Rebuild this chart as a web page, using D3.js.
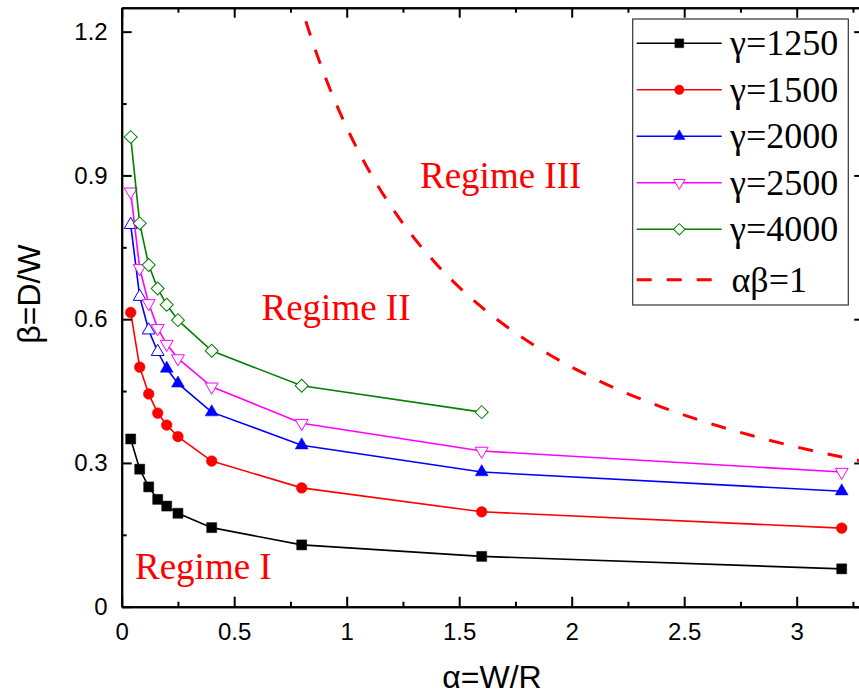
<!DOCTYPE html>
<html>
<head>
<meta charset="utf-8">
<script src="https://cdn.jsdelivr.net/npm/d3@7"></script>
<style>
  html, body { margin: 0; padding: 0; background: #fff; }
  svg { display: block; }
</style>
</head>
<body>
<svg id="chart" width="859" height="695"></svg>
<script>
// Dimensionless geometry: α = W/R on x, β = D/W on y
const alphaValues = [0.04, 0.08, 0.12, 0.16, 0.2, 0.25, 0.4, 0.8, 1.6, 3.2];

const gammaLabels = ["γ=1250", "γ=1500", "γ=2000", "γ=2500", "γ=4000"];

const beta1250 = [0.350, 0.287, 0.250, 0.224, 0.210, 0.195, 0.165, 0.129, 0.105, 0.079];
const beta1500 = [0.614, 0.500, 0.444, 0.404, 0.379, 0.355, 0.304, 0.248, 0.198, 0.164];
const beta2000 = [0.797, 0.647, 0.577, 0.532, 0.497, 0.466, 0.406, 0.337, 0.281, 0.241];
const beta2500 = [0.866, 0.706, 0.633, 0.581, 0.548, 0.518, 0.459, 0.383, 0.325, 0.281];
const beta4000 = [0.980, 0.800, 0.713, 0.664, 0.630, 0.598, 0.534, 0.461, 0.406];

// Sample abscissae for the boundary curve αβ = 1
const boundaryAlpha = [0.78, 0.8, 0.85, 0.9, 0.95, 1.0, 1.1, 1.2, 1.3, 1.4, 1.5, 1.6, 1.75, 1.9,
                       2.05, 2.2, 2.4, 2.6, 2.8, 3.0, 3.2, 3.3];
const boundaryLabel = "αβ=1";

const xMajorTicks = [0, 0.5, 1, 1.5, 2, 2.5, 3];
const xMinorTicks = [0.25, 0.75, 1.25, 1.75, 2.25, 2.75, 3.25];
const yMajorTicks = [0, 0.3, 0.6, 0.9, 1.2];
const yMinorTicks = [0.15, 0.45, 0.75, 1.05];
const xTickLabels = ["0", "0.5", "1", "1.5", "2", "2.5", "3"];
const yTickLabels = ["0", "0.3", "0.6", "0.9", "1.2"];

const regimeLabels = ["Regime I", "Regime II", "Regime III"];

// ---- styling & layout ----
const SANS = "'Liberation Sans', Arial, sans-serif";
const SERIF = "'Liberation Serif', 'Times New Roman', serif";

const seriesStyle = [
  { color: "#000000", shape: "square",  filled: true  },
  { color: "#ff0000", shape: "circle",  filled: true  },
  { color: "#0000ff", shape: "triUp",   filled: true, hollowLead: 4 },
  { color: "#ff00ff", shape: "triDown", filled: false },
  { color: "#008000", shape: "diamond", filled: false }
];
const seriesBeta = [beta1250, beta1500, beta2000, beta2500, beta4000];

const svg = d3.select("#chart");
const plotLeft = 121.7, plotRight = 864.2, plotTop = 7.7, plotBottom = 606.7;

const x = d3.scaleLinear().domain([0, 3.3]).range([plotLeft, plotRight]);
const y = d3.scaleLinear().domain([0, 1.25]).range([plotBottom, plotTop]);

svg.append("defs").append("clipPath").attr("id", "plotClip")
  .append("rect").attr("x", plotLeft).attr("y", plotTop)
  .attr("width", plotRight - plotLeft).attr("height", plotBottom - plotTop);

// marker path generator
function markerPath(shape, scale) {
  const s = scale || 1;
  switch (shape) {
    case "square":  return d3.symbol(d3.symbolSquare, 100 * s * s)();
    case "circle":  return d3.symbol(d3.symbolCircle, 90 * s * s)();
    case "triUp":   return d3.symbol(d3.symbolTriangle, 72 * s * s)();
    case "triDown": return d3.symbol(d3.symbolTriangle, 72 * s * s)();
    case "diamond": return d3.symbol(d3.symbolSquare, 84 * s * s)();
  }
}
function markerRotation(shape) {
  if (shape === "triDown") return 180;
  if (shape === "diamond") return 45;
  return 0;
}

// ---- data layers ----
const plot = svg.append("g").attr("clip-path", "url(#plotClip)");

// boundary αβ = 1
const boundaryPts = boundaryAlpha.map(a => [a, 1 / a]);
plot.append("path")
  .attr("d", d3.line().x(d => x(d[0])).y(d => y(d[1])).curve(d3.curveMonotoneX)(boundaryPts))
  .attr("fill", "none").attr("stroke", "#ff0000")
  .attr("stroke-width", 3).attr("stroke-dasharray", "15,15");

const seriesLayer = svg.append("g");
seriesBeta.forEach((betas, i) => {
  const st = seriesStyle[i];
  const pts = betas.map((b, j) => [alphaValues[j], b]);
  const hollow = j => !st.filled || (st.hollowLead && j < st.hollowLead);
  seriesLayer.append("path")
    .attr("d", d3.line().x(d => x(d[0])).y(d => y(d[1]))(pts))
    .attr("fill", "none").attr("stroke", st.color).attr("stroke-width", 1.6);
  seriesLayer.append("g").selectAll("path").data(pts).join("path")
    .attr("d", markerPath(st.shape))
    .attr("transform", d => `translate(${x(d[0])},${y(d[1])}) rotate(${markerRotation(st.shape)})`)
    .attr("fill", (d, j) => hollow(j) ? "#ffffff" : st.color)
    .attr("stroke", st.color)
    .attr("stroke-width", (d, j) => hollow(j) ? 1 : 0.5);
});

// ---- axes (inward ticks on all four sides) ----
function styleAxis(g) {
  g.selectAll(".domain").attr("stroke", "#000").attr("stroke-width", 2);
  g.selectAll(".tick line").attr("stroke", "#000").attr("stroke-width", 2);
  g.selectAll("text").attr("font-family", SANS).attr("font-size", 24).attr("fill", "#000");
}

svg.append("g").attr("transform", `translate(0,${plotBottom})`)
  .call(d3.axisBottom(x).tickValues(xMinorTicks).tickSizeInner(-5).tickSizeOuter(0).tickFormat(""))
  .call(styleAxis);
svg.append("g").attr("transform", `translate(0,${plotBottom})`)
  .call(d3.axisBottom(x).tickValues(xMajorTicks).tickSizeInner(-10).tickSizeOuter(0)
    .tickPadding(16).tickFormat((d, i) => xTickLabels[i]))
  .call(styleAxis);

svg.append("g").attr("transform", `translate(0,${plotTop})`)
  .call(d3.axisTop(x).tickValues(xMinorTicks).tickSizeInner(-5).tickSizeOuter(0).tickFormat(""))
  .call(styleAxis);
svg.append("g").attr("transform", `translate(0,${plotTop})`)
  .call(d3.axisTop(x).tickValues(xMajorTicks).tickSizeInner(-10).tickSizeOuter(0).tickFormat(""))
  .call(styleAxis);

svg.append("g").attr("transform", `translate(${plotLeft},0)`)
  .call(d3.axisLeft(y).tickValues(yMinorTicks).tickSizeInner(-5).tickSizeOuter(0).tickFormat(""))
  .call(styleAxis);
svg.append("g").attr("transform", `translate(${plotLeft},0)`)
  .call(d3.axisLeft(y).tickValues(yMajorTicks).tickSizeInner(-10).tickSizeOuter(0)
    .tickPadding(14).tickFormat((d, i) => yTickLabels[i]))
  .call(styleAxis);

svg.append("g").attr("transform", `translate(${plotRight},0)`)
  .call(d3.axisRight(y).tickValues(yMinorTicks).tickSizeInner(-5).tickSizeOuter(0).tickFormat(""))
  .call(styleAxis);
svg.append("g").attr("transform", `translate(${plotRight},0)`)
  .call(d3.axisRight(y).tickValues(yMajorTicks).tickSizeInner(-10).tickSizeOuter(0).tickFormat(""))
  .call(styleAxis);

// axis titles
svg.append("text")
  .attr("x", 492).attr("y", 688)
  .attr("text-anchor", "middle")
  .attr("font-family", SANS).attr("font-size", 32)
  .text("α=W/R");
svg.append("text")
  .attr("transform", "translate(40,294) rotate(-90)")
  .attr("text-anchor", "middle")
  .attr("font-family", SANS).attr("font-size", 32)
  .text("β=D/W");

// regime annotations
const regimePos = [[135, 579], [261.5, 320], [420, 188]];
svg.append("g").selectAll("text").data(regimeLabels).join("text")
  .attr("x", (d, i) => regimePos[i][0]).attr("y", (d, i) => regimePos[i][1])
  .attr("font-family", SERIF).attr("font-size", 37).attr("fill", "#ff0000")
  .text(d => d);

// ---- legend ----
const legend = svg.append("g");
legend.append("rect")
  .attr("x", 632.7).attr("y", 19).attr("width", 215.6).attr("height", 286)
  .attr("fill", "#fff").attr("stroke", "#333").attr("stroke-width", 1.2);

const rowY = i => 43.3 + i * 46.5 + (i === 5 ? 4 : 0);
const lx0 = 636.7, lx1 = 721.7, lmx = 679.3, ltx = 730;

gammaLabels.forEach((lab, i) => {
  const st = seriesStyle[i];
  const cy = rowY(i);
  legend.append("line").attr("x1", lx0).attr("x2", lx1).attr("y1", cy).attr("y2", cy)
    .attr("stroke", st.color).attr("stroke-width", 1.6);
  legend.append("path").attr("d", markerPath(st.shape, 0.88))
    .attr("transform", `translate(${lmx},${cy}) rotate(${markerRotation(st.shape)})`)
    .attr("fill", st.filled ? st.color : "#fff")
    .attr("stroke", st.color).attr("stroke-width", st.filled ? 0.5 : 1);
  legend.append("text").attr("x", ltx).attr("y", cy + 12)
    .attr("font-family", SERIF).attr("font-size", 36).text(lab);
});
{
  const cy = rowY(5);
  legend.append("line").attr("x1", lx0).attr("x2", lx1 - 10).attr("y1", cy).attr("y2", cy)
    .attr("stroke", "#ff0000").attr("stroke-width", 3).attr("stroke-dasharray", "15,15");
  legend.append("text").attr("x", ltx + 1.5).attr("y", cy + 12)
    .attr("font-family", SERIF).attr("font-size", 36).text(boundaryLabel);
}
</script>
</body>
</html>
